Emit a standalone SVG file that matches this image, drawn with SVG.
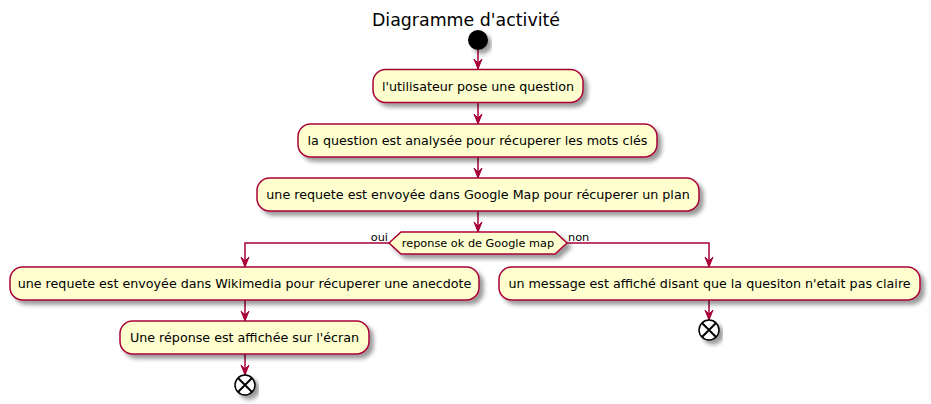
<svg xmlns="http://www.w3.org/2000/svg" width="931" height="404" viewBox="0 0 931 404">
<defs>
<filter id="sh" x="-10%" y="-20%" width="130%" height="160%">
<feGaussianBlur in="SourceAlpha" stdDeviation="2"/>
<feOffset dx="4" dy="4" result="b"/>
<feComponentTransfer><feFuncA type="linear" slope="0.4"/></feComponentTransfer>
<feMerge><feMergeNode/><feMergeNode in="SourceGraphic"/></feMerge>
</filter>
<marker id="ah" markerWidth="12" markerHeight="10" refX="11" refY="5" orient="auto" markerUnits="userSpaceOnUse" viewBox="0 0 12 10">
<path d="M1,1 L11,5 L1,9 L5,5 Z" fill="#A80036" stroke="#A80036" stroke-width="1"/>
</marker>
</defs>
<style>
.box{fill:#FEFECE;stroke:#A80036;stroke-width:1.5;filter:url(#sh)}
.t{font-family:"DejaVu Sans",sans-serif;font-size:12.7px;fill:#000;text-anchor:middle}
.s{font-family:"DejaVu Sans",sans-serif;font-size:11.3px;fill:#000}
.c{fill:none;stroke:#A80036;stroke-width:1.5}
.end{fill:#fff;stroke:#000;stroke-width:1.5;filter:url(#sh)}
.x{stroke:#000;stroke-width:2}
</style>
<text x="466" y="26" font-family="DejaVu Sans,sans-serif" font-size="17.4" text-anchor="middle">Diagramme d'activité</text>
<g id="connectors">
<path class="c" d="M478,50 L478,69" marker-end="url(#ah)"/>
<path class="c" d="M478,102 L478,124" marker-end="url(#ah)"/>
<path class="c" d="M478,157 L478,178" marker-end="url(#ah)"/>
<path class="c" d="M478,211 L478,232" marker-end="url(#ah)"/>
<path class="c" d="M389,243 L245,243 L245,267" marker-end="url(#ah)"/>
<path class="c" d="M567,243 L709,243 L709,267" marker-end="url(#ah)"/>
<path class="c" d="M245,300 L245,321" marker-end="url(#ah)"/>
<path class="c" d="M245,354 L245,375" marker-end="url(#ah)"/>
<path class="c" d="M709,300 L709,320" marker-end="url(#ah)"/>
<text class="s" x="388" y="241" text-anchor="end">oui</text>
<text class="s" x="568" y="241">non</text>
</g>
<g id="start"><circle cx="478" cy="40" r="10" fill="#000" filter="url(#sh)"/></g>
<g id="n1"><rect class="box" x="373" y="69.5" width="210" height="33" rx="12.5"/><text class="t" x="478" y="90.5">l'utilisateur pose une question</text></g>
<g id="n2"><rect class="box" x="298" y="124" width="359" height="33" rx="12.5"/><text class="t" x="477.5" y="145">la question est analysée pour récuperer les mots clés</text></g>
<g id="n3"><rect class="box" x="257" y="178" width="442" height="33" rx="12.5"/><text class="t" x="478" y="199">une requete est envoyée dans Google Map pour récuperer un plan</text></g>
<g id="d1"><polygon class="box" points="389,243 401,232 555,232 567,243 555,254 401,254"/><text class="s" x="478" y="247" text-anchor="middle">reponse ok de Google map</text></g>
<g id="n4"><rect class="box" x="10" y="267" width="469" height="33" rx="12.5"/><text class="t" x="244.5" y="288">une requete est envoyée dans Wikimedia pour récuperer une anecdote</text></g>
<g id="n5"><rect class="box" x="120" y="321" width="249" height="33" rx="12.5"/><text class="t" x="244.5" y="342">Une réponse est affichée sur l'écran</text></g>
<g id="end1"><circle class="end" cx="245" cy="385" r="10"/><path class="x" d="M238,378 L252,392 M252,378 L238,392"/></g>
<g id="n6"><rect class="box" x="499" y="267" width="421" height="33" rx="12.5"/><text class="t" x="709.5" y="288">un message est affiché disant que la quesiton n'etait pas claire</text></g>
<g id="end2"><circle class="end" cx="709" cy="330" r="10"/><path class="x" d="M702,323 L716,337 M716,323 L702,337"/></g>
</svg>
